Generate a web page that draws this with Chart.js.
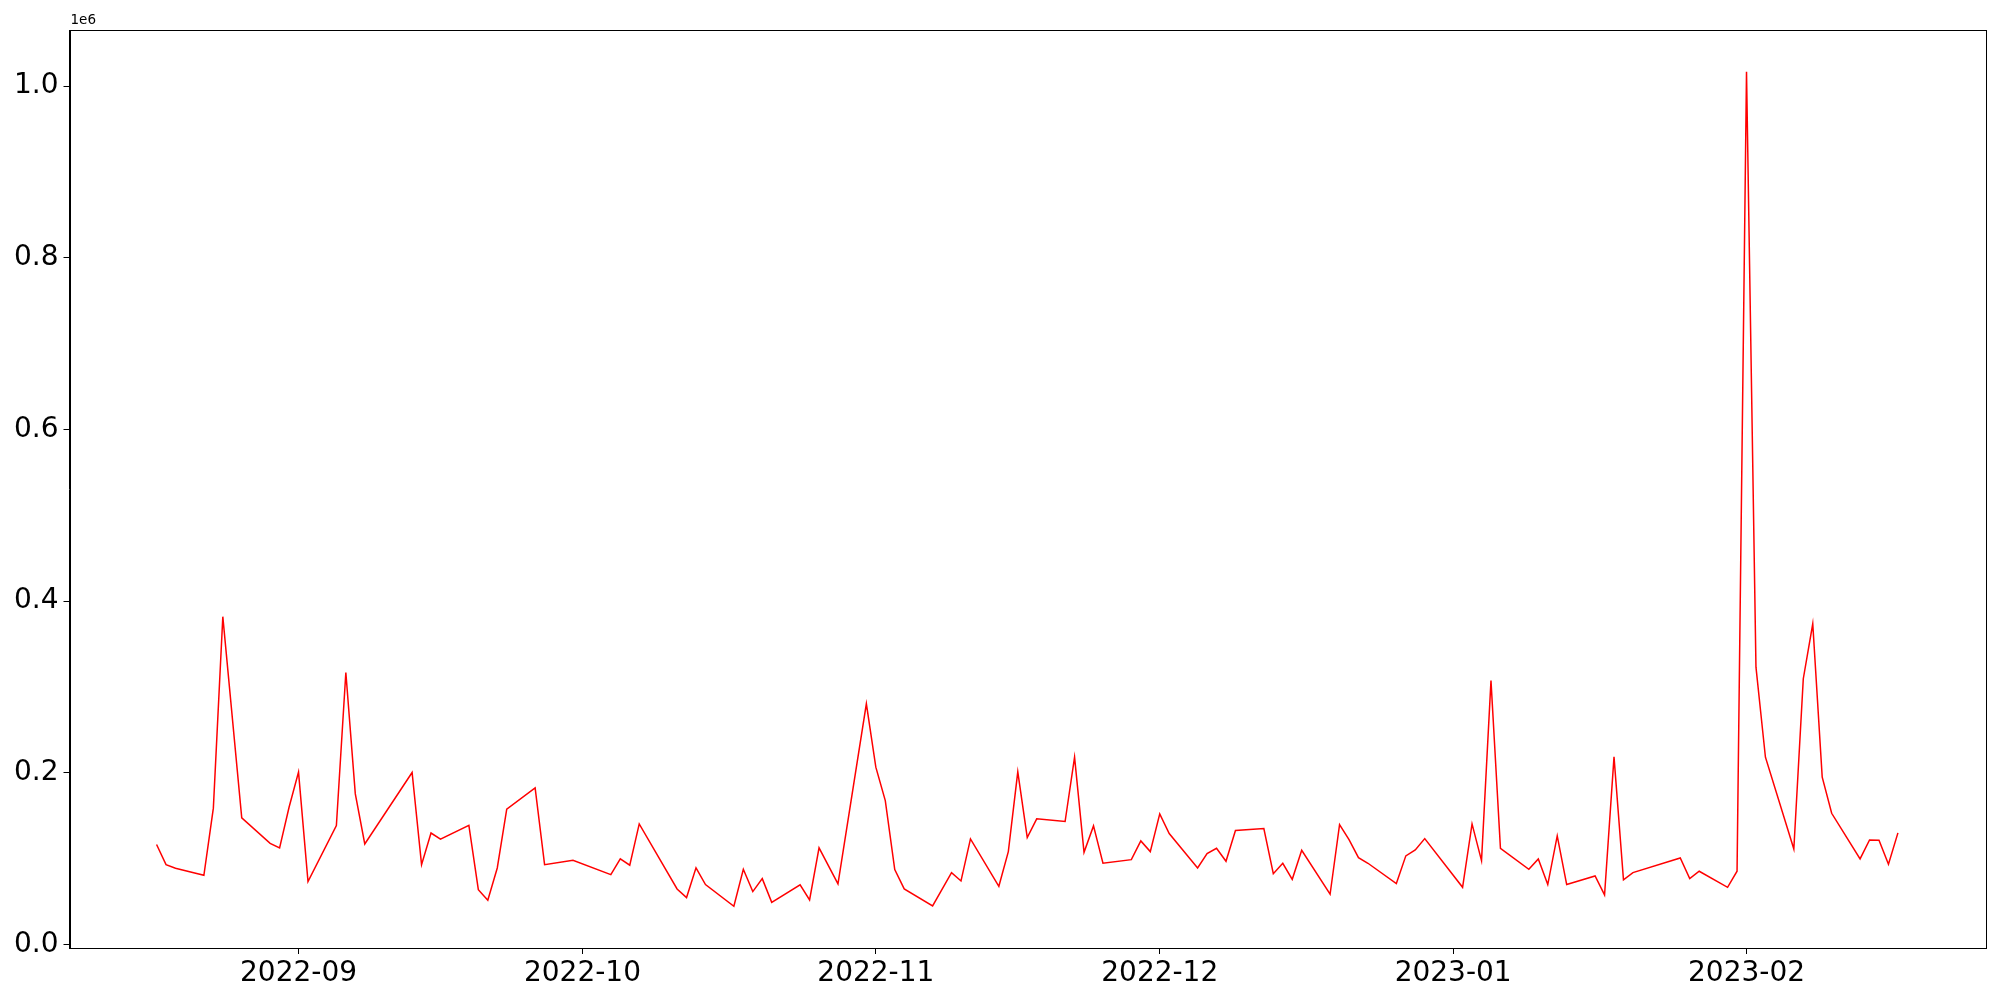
<!DOCTYPE html>
<html>
<head>
<meta charset="utf-8">
<script src="https://cdn.jsdelivr.net/npm/chart.js@4"></script>
<style>
  html, body { margin: 0; padding: 0; background: #fff; }
  #wrap { width: 2000px; height: 1000px; }
</style>
</head>
<body>
<div id="wrap"><canvas id="series" width="2000" height="1000"></canvas></div>
<script>
// dates of each observation
const dates = [
  '2022-08-17','2022-08-18','2022-08-19','2022-08-22','2022-08-23','2022-08-24','2022-08-26','2022-08-29','2022-08-30','2022-08-31',
  '2022-09-01','2022-09-02','2022-09-05','2022-09-06','2022-09-07','2022-09-08','2022-09-13','2022-09-14','2022-09-15','2022-09-16',
  '2022-09-19','2022-09-20','2022-09-21','2022-09-22','2022-09-23','2022-09-26','2022-09-27','2022-09-30',
  '2022-10-04','2022-10-05','2022-10-06','2022-10-07','2022-10-11','2022-10-12','2022-10-13','2022-10-14','2022-10-17','2022-10-18',
  '2022-10-19','2022-10-20','2022-10-21','2022-10-24','2022-10-25','2022-10-26','2022-10-28','2022-10-31',
  '2022-11-01','2022-11-02','2022-11-03','2022-11-04','2022-11-07','2022-11-09','2022-11-10','2022-11-11','2022-11-14','2022-11-15',
  '2022-11-16','2022-11-17','2022-11-18','2022-11-21','2022-11-22','2022-11-23','2022-11-24','2022-11-25','2022-11-28','2022-11-29','2022-11-30',
  '2022-12-01','2022-12-02','2022-12-05','2022-12-06','2022-12-07','2022-12-08','2022-12-09','2022-12-12','2022-12-13','2022-12-14',
  '2022-12-15','2022-12-16','2022-12-19','2022-12-20','2022-12-21','2022-12-22','2022-12-23','2022-12-26','2022-12-27','2022-12-28','2022-12-29',
  '2023-01-02','2023-01-03','2023-01-04','2023-01-05','2023-01-06','2023-01-09','2023-01-10','2023-01-11','2023-01-12','2023-01-13',
  '2023-01-16','2023-01-17','2023-01-18','2023-01-19','2023-01-20','2023-01-25','2023-01-26','2023-01-27','2023-01-30','2023-01-31',
  '2023-02-01','2023-02-02','2023-02-03','2023-02-06','2023-02-07','2023-02-08','2023-02-09','2023-02-10','2023-02-13','2023-02-14',
  '2023-02-15','2023-02-16','2023-02-17'
];

// value on each date
const values = [
  116600, 93200, 88900, 80800, 159000, 382000, 147700, 118000, 112700, 160000,
  201000, 73400, 138700, 317000, 175600, 117300, 200500, 93200, 130000, 122800,
  139000, 64000, 51700, 89300, 157700, 182600, 93200, 98300,
  81600, 99900, 92500, 140600, 64900, 54800, 89400, 70000, 44700, 87800,
  61800, 76900, 49300, 69600, 52100, 112700, 70700, 280500,
  206700, 167800, 87400, 64900, 45100, 83900, 74200, 123200, 68000, 108400,
  201300, 124700, 146500, 143400, 218300, 107600, 138300, 94800, 99000, 120800, 108400,
  152300, 129400, 89300, 106000, 112300, 97100, 132900, 135200, 82700, 94800,
  76100, 109900, 58700, 139900, 122400, 101400, 94800, 71100, 103400, 110300, 123500,
  66800, 140600, 97900, 307700, 112300, 87800, 99900, 70000, 126700, 70000,
  80000, 57900, 218700, 75400, 83900, 101000, 76900, 85500, 66800, 85500,
  1016700, 323200, 218300, 111500, 309700, 373700, 195000, 153000, 99900, 122000,
  121600, 93600, 130200
];

// tick positions
const xTickMonths = ['2022-09-01','2022-10-01','2022-11-01','2022-12-01','2023-01-01','2023-02-01'];
const yTicks = [0, 0.2, 0.4, 0.6, 0.8, 1.0];

const DAY = 86400000;
function toDay(s) {
  const p = s.split('-').map(Number);
  return Date.UTC(p[0], p[1] - 1, p[2]) / DAY;
}
function dayLabel(d) {
  const dt = new Date(d * DAY);
  return dt.getUTCFullYear() + '-' + String(dt.getUTCMonth() + 1).padStart(2, '0');
}

const points = dates.map((d, i) => ({ x: toDay(d), y: values[i] }));

// matplotlib style 5% margins
const xs = points.map(p => p.x), ys = values;
const xMin = Math.min(...xs), xMax = Math.max(...xs);
const yMin = Math.min(...ys), yMax = Math.max(...ys);
const xPad = (xMax - xMin) * 0.05, yPad = (yMax - yMin) * 0.05;

const boxPlugin = {
  id: 'box',
  afterDraw(chart) {
    const { ctx, chartArea: a } = chart;
    ctx.save();
    ctx.strokeStyle = '#000';
    ctx.lineWidth = 1;
    ctx.strokeRect(Math.round(a.left) + 0.5, Math.round(a.top) + 0.5,
      Math.round(a.right - a.left), Math.round(a.bottom - a.top));
    ctx.fillStyle = '#000';
    ctx.font = '13.5px "DejaVu Sans"';
    ctx.textBaseline = 'bottom';
    ctx.fillText('1e6', a.left + 1, a.top - 3);
    ctx.restore();
  }
};

const tickFont = { family: 'DejaVu Sans', size: 28 };

new Chart(document.getElementById('series'), {
  type: 'line',
  data: {
    datasets: [{
      data: points,
      borderColor: '#ff0000',
      borderWidth: 1.5,
      pointRadius: 0,
      tension: 0,
      fill: false
    }]
  },
  options: {
    responsive: false,
    animation: false,
    devicePixelRatio: 1,
    layout: { padding: { top: 30, right: 15, left: 0, bottom: 0 } },
    plugins: { legend: { display: false }, tooltip: { enabled: false } },
    scales: {
      x: {
        type: 'linear',
        min: xMin - xPad,
        max: xMax + xPad,
        afterBuildTicks(scale) {
          scale.ticks = xTickMonths.map(m => ({ value: toDay(m) }));
        },
        afterFit(scale) { scale.height = 52; },
        ticks: {
          autoSkip: false,
          maxRotation: 0,
          color: '#000',
          font: tickFont,
          padding: 3,
          callback: v => dayLabel(v)
        },
        grid: { drawOnChartArea: false, drawTicks: true, tickLength: 6, color: '#000' },
        border: { display: true, color: '#000' }
      },
      y: {
        type: 'linear',
        min: yMin - yPad,
        max: yMax + yPad,
        afterBuildTicks(scale) {
          scale.ticks = yTicks.map(v => ({ value: v * 1e6 }));
        },
        afterFit(scale) { scale.width = 69.5; },
        ticks: {
          color: '#000',
          font: tickFont,
          padding: 5,
          callback: v => (v / 1e6).toFixed(1)
        },
        grid: { drawOnChartArea: false, drawTicks: true, tickLength: 6, color: '#000' },
        border: { display: true, color: '#000' }
      }
    }
  },
  plugins: [boxPlugin]
});
</script>
</body>
</html>
